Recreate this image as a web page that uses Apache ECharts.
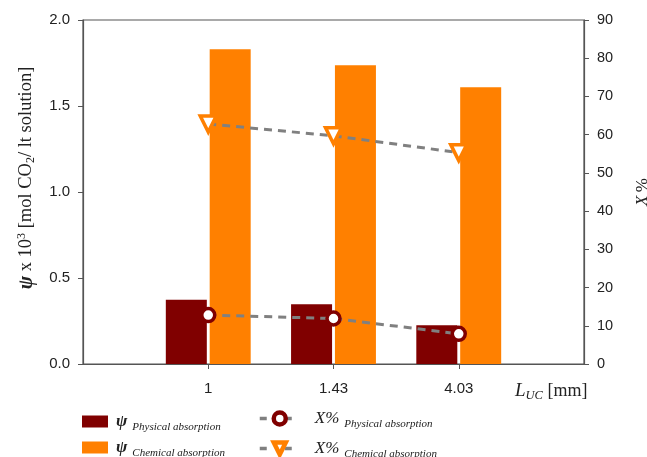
<!DOCTYPE html>
<html>
<head>
<meta charset="utf-8">
<script src="https://cdn.jsdelivr.net/npm/echarts@6/dist/echarts.min.js"></script>
<style>
  html, body { margin: 0; padding: 0; background: #fff; }
  #chart { width: 647px; height: 457px; }
</style>
</head>
<body>
<div id="chart"></div>
<script>
// Unit-cell length categories (padded with empty slots at both ends)
const categories = ['', '1', '1.43', '4.03', ''];

// Absorbed CO2, psi x 10^3 [mol CO2 / lt solution]
const psiPhysical = [null, 0.373, 0.348, 0.226, null];
const psiChemical = [null, 1.83, 1.737, 1.609, null];

// Conversion X %
const xPhysical = [null, 12.8, 11.9, 7.9, null];
const xChemical = [null, 62.8, 59.7, 55.3, null];

const leftTicks = { min: 0, max: 2, interval: 0.5 };
const rightTicks = { min: 0, max: 90, interval: 10 };

const serif = 'Liberation Serif';
const sans = 'Liberation Sans';
const axisColor = '#555';
const textColor = '#222';

const legendRich = {
  psi: { fontFamily: serif, fontStyle: 'italic', fontWeight: 'bold', fontSize: 17, color: textColor, padding: [0, 0, 0, 3] },
  x: { fontFamily: serif, fontStyle: 'italic', fontSize: 17, color: textColor, padding: [0, 0, 0, 10] },
  sub: { fontFamily: serif, fontStyle: 'italic', fontSize: 11, color: textColor, padding: [11, 0, 0, 5] }
};

const legendLabels = {
  psiPhysical: '{psi|ψ}{sub|Physical absorption}',
  psiChemical: '{psi|ψ}{sub|Chemical absorption}',
  xPhysical: '{x|X%}{sub|Physical absorption}',
  xChemical: '{x|X%}{sub|Chemical absorption}'
};

// one legend block per entry, laid out as a 2 x 2 table
function legendItem(name, left, top, isLine) {
  const item = {
    data: [name],
    left: left, top: top,
    padding: 0,
    itemWidth: isLine ? 40 : 26,
    itemHeight: isLine ? 15 : 12,
    itemGap: 0,
    icon: isLine ? undefined : 'rect',
    formatter: (n) => legendLabels[n],
    textStyle: { rich: legendRich }
  };
  if (isLine) {
    item.itemStyle = { borderWidth: 4.5 };
    item.lineStyle = { width: 3.5, type: [7, 18] };
  }
  return item;
}

const chart = echarts.init(document.getElementById('chart'), null, { renderer: 'canvas' });

chart.setOption({
  animation: false,
  backgroundColor: '#fff',
  grid: {
    left: 83, right: 63, top: 20, bottom: 93,
    outerBoundsMode: 'none',
    containLabel: false,
    show: true, borderColor: axisColor, borderWidth: 1.2, backgroundColor: 'transparent'
  },
  xAxis: {
    type: 'category',
    data: categories,
    boundaryGap: false,
    axisLine: { lineStyle: { color: axisColor, width: 1.2 } },
    axisTick: { length: 5, lineStyle: { color: axisColor }, interval: (i) => i > 0 && i < categories.length - 1 },
    axisLabel: { fontFamily: sans, fontSize: 15, color: textColor, margin: 17 },
    name: '{l|L}{sub|UC}{t| [mm]}',
    nameLocation: 'end',
    nameGap: -69,
    nameTextStyle: {
      align: 'left', verticalAlign: 'top', padding: [16, 0, 0, 0],
      rich: {
        l: { fontFamily: serif, fontStyle: 'italic', fontSize: 19, color: textColor },
        sub: { fontFamily: serif, fontStyle: 'italic', fontSize: 12.5, color: textColor, padding: [9, 0, 0, 0] },
        t: { fontFamily: serif, fontSize: 18, color: textColor }
      }
    }
  },
  yAxis: [
    {
      type: 'value',
      min: leftTicks.min, max: leftTicks.max, interval: leftTicks.interval,
      axisLine: { show: true, lineStyle: { color: axisColor, width: 1.2 } },
      axisTick: { show: true, length: 5, lineStyle: { color: axisColor } },
      splitLine: { show: false },
      axisLabel: { fontFamily: sans, fontSize: 15, color: textColor, margin: 13, formatter: (v) => v.toFixed(1) },
      name: '{psi|ψ}{t| x 10}{sup|3}{t| [mol CO}{sub|2}{t|/ lt solution]}',
      nameLocation: 'middle',
      nameRotate: 90,
      nameGap: 46,
      nameTextStyle: {
        padding: [0, 0, 0, 28],
        rich: {
          psi: { fontFamily: serif, fontStyle: 'italic', fontWeight: 'bold', fontSize: 20, color: textColor },
          t: { fontFamily: serif, fontSize: 18.5, color: textColor },
          sup: { fontFamily: serif, fontSize: 12, color: textColor, padding: [0, 0, 9, 0] },
          sub: { fontFamily: serif, fontSize: 12, color: textColor, padding: [9, 0, 0, 0] }
        }
      }
    },
    {
      type: 'value',
      position: 'right',
      min: rightTicks.min, max: rightTicks.max, interval: rightTicks.interval,
      axisLine: { show: true, lineStyle: { color: axisColor, width: 1.2 } },
      axisTick: { show: true, length: 5, lineStyle: { color: axisColor } },
      splitLine: { show: false },
      axisLabel: { fontFamily: sans, fontSize: 14.5, color: textColor, margin: 13 },
      name: '{x|X} {t|%}',
      nameLocation: 'middle',
      nameRotate: 90,
      nameGap: 50,
      nameTextStyle: {
        rich: {
          x: { fontFamily: serif, fontStyle: 'italic', fontSize: 17, color: textColor },
          t: { fontFamily: serif, fontSize: 17, color: textColor }
        }
      }
    }
  ],
  legend: [
    legendItem('psiPhysical', 82, 413, false),
    legendItem('psiChemical', 82, 439, false),
    legendItem('xPhysical', 258, 410, true),
    legendItem('xChemical', 258, 440, true)
  ],
  series: [
    {
      name: 'psiPhysical', type: 'bar', yAxisIndex: 0,
      data: psiPhysical, barWidth: 41, barGap: '7%',
      itemStyle: { color: '#800000' }
    },
    {
      name: 'psiChemical', type: 'bar', yAxisIndex: 0,
      data: psiChemical, barWidth: 41, barGap: '7%',
      itemStyle: { color: '#ff8000' }
    },
    {
      name: 'xPhysical', type: 'line', yAxisIndex: 1,
      data: xPhysical, z: 5,
      symbol: 'circle', symbolSize: 13,
      itemStyle: { color: '#fff', borderColor: '#800000', borderWidth: 3.5 },
      lineStyle: { color: '#808080', width: 3, type: [8, 6] }
    },
    {
      name: 'xChemical', type: 'line', yAxisIndex: 1,
      data: xChemical, z: 5,
      symbol: 'triangle', symbolRotate: 180, symbolSize: 16,
      itemStyle: { color: '#fff', borderColor: '#ff8000', borderWidth: 3.5 },
      lineStyle: { color: '#808080', width: 3, type: [8, 6] }
    }
  ]
});
</script>
</body>
</html>
